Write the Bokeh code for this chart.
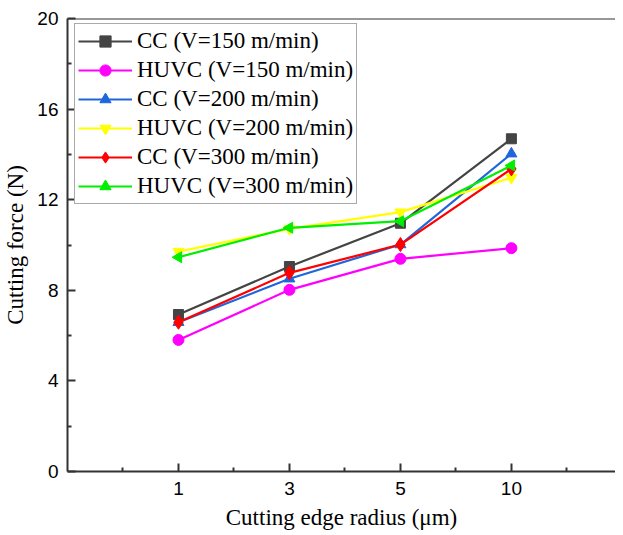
from bokeh.plotting import figure
from bokeh.models import FixedTicker, Span, Legend, LegendItem, Range1d
from bokeh.embed import file_html
from bokeh.resources import INLINE

radius_labels = ["1", "3", "5", "10"]
cc_150 = [6.93, 9.05, 10.96, 14.69]
huvc_150 = [5.81, 8.02, 9.39, 9.86]
cc_200 = [6.59, 8.51, 10.02, 14.03]
huvc_200 = [9.71, 10.71, 11.45, 12.97]
cc_300 = [6.59, 8.77, 10.02, 13.36]
huvc_300 = [9.46, 10.76, 11.05, 13.51]

series_names = ["CC (V=150 m/min)", "HUVC (V=150 m/min)", "CC (V=200 m/min)",
                "HUVC (V=200 m/min)", "CC (V=300 m/min)", "HUVC (V=300 m/min)"]
series_values = [cc_150, huvc_150, cc_200, huvc_200, cc_300, huvc_300]
colors = ["#444444", "#FF00FF", "#1F66DD", "#FFFF00", "#FF0000", "#00EE00"]
markers = ["square", "circle", "triangle", "inverted_triangle", "diamond", "triangle"]
angles = [0, 0, 0, 0, 0, 1.5707963]
sizes = [10, 11, 11, 11, 14, 11]

xpos = list(range(1, len(radius_labels) + 1))

p = figure(width=615, height=533, output_backend="svg", toolbar_location=None,
           x_range=Range1d(0, 4.938), y_range=Range1d(0, 20),
           min_border_left=57, min_border_right=0, min_border_top=18, min_border_bottom=62)
p.outline_line_color = None
p.background_fill_color = "white"
p.border_fill_color = "white"
p.xgrid.visible = False
p.ygrid.visible = False

items = []
for name, vals, c, m, a, s in zip(series_names, series_values, colors, markers, angles, sizes):
    r1 = p.line(xpos, vals, line_color=c, line_width=2.2)
    r2 = p.scatter(x=xpos, y=vals, marker=m, size=s, fill_color=c, line_color=c,
                   angle=[a] * len(vals))
    items.append(LegendItem(label=name, renderers=[r1, r2]))

p.add_layout(Span(location=20, dimension="width", line_color="#333333", line_width=2))

legend = Legend(items=items, location=(7, 267))
legend.label_text_font = "Liberation Serif"
legend.label_text_font_size = "23px"
legend.label_text_color = "black"
legend.glyph_width = 54
legend.glyph_height = 28
legend.label_height = 28
legend.label_standoff = 5
legend.spacing = 1
legend.padding = 3
legend.margin = 0
legend.border_line_color = "#555555"
legend.border_line_width = 1.5
legend.background_fill_alpha = 1
p.add_layout(legend, "center")

for ax in (p.xaxis[0], p.yaxis[0]):
    ax.axis_line_width = 2
    ax.axis_line_color = "#333333"
    ax.major_tick_line_color = "#333333"
    ax.minor_tick_line_color = "#333333"
    ax.major_tick_line_width = 2
    ax.minor_tick_line_width = 2
    ax.major_tick_in = 8
    ax.major_tick_out = 0
    ax.minor_tick_in = 4
    ax.minor_tick_out = 0
    ax.major_label_text_font = "Liberation Sans"
    ax.major_label_text_font_size = "19px"
    ax.major_label_text_color = "black"
    ax.axis_label_text_font = "Liberation Serif"
    ax.axis_label_text_font_size = "23px"
    ax.axis_label_text_font_style = "normal"
    ax.axis_label_text_color = "black"

p.xaxis.ticker = FixedTicker(ticks=xpos, minor_ticks=[0.5, 1.5, 2.5, 3.5, 4.5])
p.xaxis.major_label_overrides = {x: lab for x, lab in zip(xpos, radius_labels)}
p.xaxis.axis_label = "Cutting edge radius (μm)"
p.xaxis.major_label_standoff = 10
p.xaxis.axis_label_standoff = 7

p.yaxis.ticker = FixedTicker(ticks=[0, 4, 8, 12, 16, 20], minor_ticks=[2, 6, 10, 14, 18])
p.yaxis.axis_label = "Cutting force (N)"
p.yaxis.major_label_standoff = 9
p.yaxis.axis_label_standoff = 6

open("out.html", "w").write(file_html(p, INLINE))
